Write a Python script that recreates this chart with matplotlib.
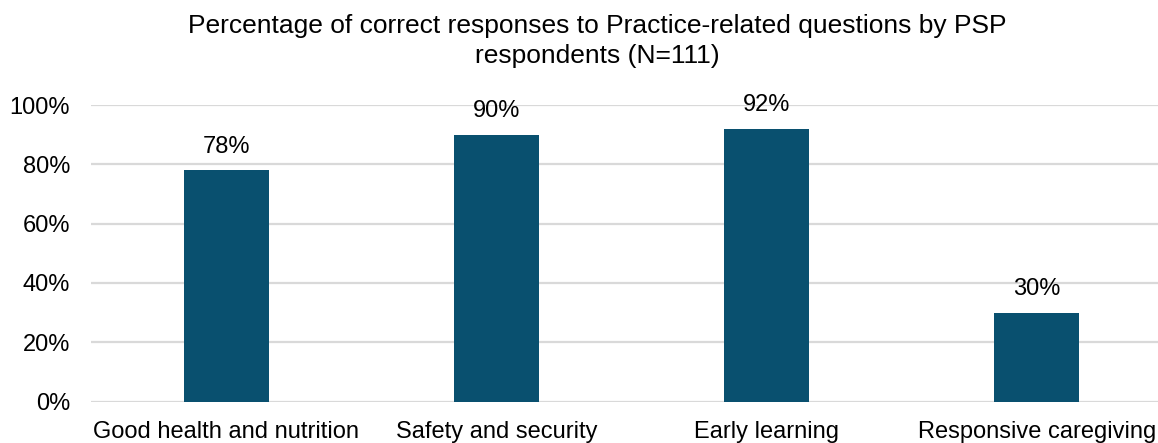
import matplotlib
matplotlib.use("Agg")
import matplotlib.pyplot as plt
from matplotlib.ticker import FuncFormatter

categories = ["Good health and nutrition", "Safety and security", "Early learning", "Responsive caregiving"]
values = [78, 90, 92, 30]
value_labels = ["78%", "90%", "92%", "30%"]
yticks = [0, 20, 40, 60, 80, 100]

plt.rcParams['font.family'] = ['Liberation Sans', 'DejaVu Sans']

W, H = 1158, 443
fig = plt.figure(figsize=(W / 100, H / 100), dpi=100)
left, right = 91 / W, 1172 / W
bottom, top = 1 - 401.5 / H, 1 - 105 / H
ax = fig.add_axes([left, bottom, right - left, top - bottom])

bar_color = "#09506F"
x = list(range(len(categories)))
bars = ax.bar(x, values, width=0.315, color=bar_color, zorder=3)

for xi, v, lab in zip(x, values, value_labels):
    ax.annotate(lab, (xi, v), xytext=(0, 9), textcoords="offset points",
                ha="center", va="bottom", fontsize=17, color="#000000")

ax.set_xlim(-0.5, 3.5)
ax.set_ylim(0, 100)
ax.set_yticks(yticks)
ax.yaxis.set_major_formatter(FuncFormatter(lambda v, p: f"{v:.0f}%"))
ax.set_xticks(x)
ax.set_xticklabels(categories)
ax.tick_params(axis="both", length=0, labelsize=17, colors="#000000")
ax.tick_params(axis="x", pad=14)
ax.tick_params(axis="y", pad=15)
ax.grid(axis="y", color="#D9D9D9", linewidth=1.6, zorder=0)
for s in ax.spines.values():
    s.set_visible(False)

fig.text(597 / W, 1 - 41 / H,
         "Percentage of correct responses to Practice-related questions by PSP\nrespondents (N=111)",
         ha="center", va="center", fontsize=19, linespacing=1.35, color="#000000")

fig.savefig("out.png", dpi=100)
